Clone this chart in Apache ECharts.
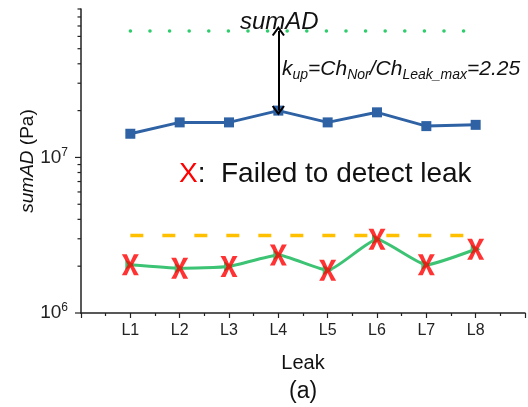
<!DOCTYPE html>
<html>
<head>
<meta charset="utf-8">
<script src="https://cdn.jsdelivr.net/npm/echarts@6/dist/echarts.min.js"></script>
<style>
html,body{margin:0;padding:0;background:#fff;}
#main{width:528px;height:407px;}
</style>
</head>
<body>
<div id="main"></div>
<script>
// 泄漏工况
var leaks = ['L1', 'L2', 'L3', 'L4', 'L5', 'L6', 'L7', 'L8'];
// 正常工况 sumAD
var normalAD = [1.42e7, 1.68e7, 1.68e7, 2.0e7, 1.68e7, 1.95e7, 1.59e7, 1.62e7];
// 泄漏工况 sumAD
var leakAD = [2.04e6, 1.94e6, 1.99e6, 2.36e6, 1.88e6, 2.98e6, 2.04e6, 2.57e6];
// 上/下限
var upperLine = 6.5e7;
var lowerLine = 3.15e6;
// y轴刻度
var yMajorTicks = [1e6, 1e7];
var yMinorTicks = [2e6, 3e6, 4e6, 5e6, 6e6, 7e6, 8e6, 9e6, 2e7, 3e7, 4e7, 5e7, 6e7, 7e7, 8e7, 9e7];

function pairs(vals) {
	return vals.map(function(v, i) { return [i + 1, v]; });
}

var crossPath = 'path://M0,0L2.9,0L5,3.7L7.1,0L10,0L6.5,5L10,10L7.1,10L5,6.3L2.9,10L0,10L3.5,5Z';
var chevron = 'path://M5,0L10,7.2L8.7,8L5,2.8L1.3,8L0,7.2Z';
var fontFam = 'Arial, "Liberation Sans", sans-serif';

var tickData = yMajorTicks.map(function(v) { return [0, v, 6]; })
	.concat(yMinorTicks.map(function(v) { return [0, v, 3.5]; }));

var myChart = echarts.init(document.getElementById('main'));
var option = {
	backgroundColor: '#fff',
	animation: false,
	textStyle: { fontFamily: fontFam },
	title: [{
		text: 'sumAD',
		left: 235, top: 5,
		textStyle: { fontSize: 24, fontStyle: 'italic', fontWeight: 'normal', color: '#111', fontFamily: fontFam }
	}, {
		text: 'k{s|up}=Ch{s|Nor}/Ch{s|Leak_max}=2.25',
		left: 277, top: 51,
		textStyle: {
			fontSize: 21, fontStyle: 'italic', fontWeight: 'normal', color: '#111', fontFamily: fontFam,
			rich: {
				s: { fontSize: 14, fontStyle: 'italic', fontWeight: 'normal', color: '#111', padding: [12, 0, 0, 0], fontFamily: fontFam }
			}
		}
	}, {
		text: '{x|X}{t|:  Failed to detect leak}',
		left: 174, top: 155,
		textStyle: {
			fontWeight: 'normal',
			rich: {
				x: { fontSize: 28, fontWeight: 'normal', color: '#ff0000', fontFamily: fontFam },
				t: { fontSize: 28, fontWeight: 'normal', color: '#111', fontFamily: fontFam }
			}
		}
	}, {
		text: '(a)',
		left: 284, top: 375,
		textStyle: { fontSize: 23, fontWeight: 'normal', color: '#111', fontFamily: fontFam }
	}],
	grid: { left: 81, right: 1, top: 9, bottom: 94 },
	xAxis: {
		type: 'value',
		min: 0, max: 9, interval: 1,
		name: 'Leak',
		nameLocation: 'middle',
		nameGap: 40,
		nameTextStyle: { fontSize: 20, color: '#111', fontFamily: fontFam },
		axisLine: { lineStyle: { color: '#222', width: 1.5 } },
		axisTick: { length: 5, lineStyle: { color: '#222', width: 1.2 } },
		minorTick: { show: true, splitNumber: 2, length: 3, lineStyle: { color: '#222', width: 1.2 } },
		splitLine: { show: false },
		axisLabel: {
			fontSize: 16, color: '#222', margin: 10,
			formatter: function(v) { return (v >= 1 && v <= 8) ? leaks[v - 1] : ''; }
		}
	},
	yAxis: {
		type: 'log',
		logBase: 10,
		min: 1e6, max: 9e7,
		name: '{i|sumAD} (Pa)',
		nameLocation: 'middle',
		nameGap: 44,
		nameMoveOverlap: false,
		nameTextStyle: {
			fontSize: 19, color: '#111', fontFamily: fontFam,
			rich: { i: { fontSize: 19, fontStyle: 'italic', color: '#111', fontFamily: fontFam } }
		},
		axisLine: { show: true, lineStyle: { color: '#222', width: 1.5 } },
		axisTick: { show: false },
		splitLine: { show: false },
		axisLabel: {
			margin: 13,
			formatter: function(v) {
				var e = Math.round(Math.log10(v));
				if (Math.abs(Math.log10(v) - e) > 1e-6) return '';
				return '10{sup|' + e + '}';
			},
			rich: {
				sup: { fontSize: 12, color: '#222', padding: [0, 0, 10, 0], fontFamily: fontFam }
			},
			fontSize: 19, color: '#222'
		}
	},
	series: [{
		name: 'ticks',
		type: 'custom',
		silent: true,
		data: tickData,
		renderItem: function(params, api) {
			var p = api.coord([api.value(0), api.value(1)]);
			var len = api.value(2);
			return {
				type: 'line',
				shape: { x1: p[0] - len, y1: p[1], x2: p[0], y2: p[1] },
				style: { stroke: '#222', lineWidth: 1.2 }
			};
		},
		z: 1
	}, {
		name: 'upper',
		type: 'line',
		data: [[1, upperLine], [8, upperLine]],
		symbol: 'none',
		lineStyle: { color: '#2ecc6a', width: 3.5, type: [0.1, 19.5], cap: 'round' }
	}, {
		name: 'lower',
		type: 'line',
		data: [[1, lowerLine], [8, lowerLine]],
		symbol: 'none',
		lineStyle: { color: '#ffc000', width: 3.5, type: [13, 19] }
	}, {
		name: 'normal',
		type: 'line',
		data: pairs(normalAD),
		symbol: 'rect',
		symbolSize: 10,
		itemStyle: { color: '#2e62a4' },
		lineStyle: { color: '#2e62a4', width: 3 },
		markLine: {
			silent: true,
			symbol: [chevron, chevron],
			symbolSize: [13, 10],
			label: { show: false },
			lineStyle: { color: '#000', width: 2, type: 'solid' },
			data: [[{ coord: [4, upperLine] }, { coord: [4, normalAD[3]] }]]
		},
		z: 3
	}, {
		name: 'leak',
		type: 'line',
		data: pairs(leakAD),
		smooth: 0.15,
		symbol: 'triangle',
		symbolRotate: -90,
		symbolSize: 10,
		itemStyle: { color: '#3cc374' },
		lineStyle: { color: '#3cc374', width: 3 },
		z: 3
	}, {
		name: 'failed',
		type: 'scatter',
		data: pairs(leakAD),
		symbol: crossPath,
		symbolSize: [17, 21],
		itemStyle: { color: '#ff0000' },
		z: 4
	}]
};
myChart.setOption(option);
</script>
</body>
</html>
